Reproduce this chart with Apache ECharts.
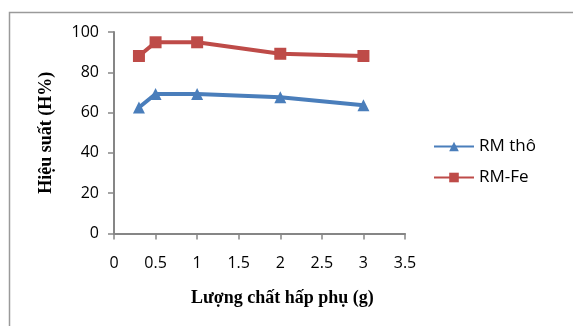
<!DOCTYPE html>
<html><head><meta charset="utf-8">
<script src="https://cdn.jsdelivr.net/npm/echarts@6/dist/echarts.min.js"></script>
<style>html,body{margin:0;padding:0;background:#fff}#c{width:573px;height:326px}</style>
</head><body><div id="c"></div>
<script>
const xValues = [0.3, 0.5, 1, 2, 3];
const rmTho = [62.5, 69.2, 69.2, 67.6, 63.7];
const rmFe = [88.1, 94.9, 94.9, 89.2, 88.1];
const seriesNames = ['RM thô', 'RM-Fe'];
const xTicks = [0, 0.5, 1, 1.5, 2, 2.5, 3, 3.5];
const yTicks = [0, 20, 40, 60, 80, 100];

const chart = echarts.init(document.getElementById('c'), null, {renderer: 'canvas'});
const axisCol = '#868686';
const labelFont = {color: '#000', fontFamily: 'Open Sans', fontSize: 16};
chart.setOption({
  animation: false,
  backgroundColor: '#fff',
  graphic: [
    {type: 'rect', shape: {x: 9.5, y: 12.5, width: 700, height: 500}, style: {fill: 'none', stroke: '#9a9a9a', lineWidth: 1.5}, z: -1},
    {type: 'text', left: 191, top: 289, style: {text: 'Lượng chất hấp phụ (g)', fill: '#000', font: 'bold 18px "Liberation Serif"'}}
  ],
  grid: {left: 114, right: 168, top: 32, bottom: 92.5},
  legend: {
    orient: 'vertical', left: 428, top: 133, itemWidth: 40, itemHeight: 12, itemGap: 14,
    textStyle: {fontFamily: 'Open Sans', fontSize: 17, color: '#000'},
    data: seriesNames
  },
  xAxis: {
    type: 'value', min: xTicks[0], max: xTicks[xTicks.length - 1], interval: 0.5,
    axisLine: {lineStyle: {color: axisCol, width: 2}},
    axisTick: {show: true, length: 6, lineStyle: {color: axisCol, width: 1.5}},
    axisLabel: Object.assign({margin: 22, formatter: v => String(v)}, labelFont),
    splitLine: {show: false}
  },
  yAxis: {
    type: 'value', min: yTicks[0], max: yTicks[yTicks.length - 1], interval: 20,
    name: 'Hiệu suất (H%)', nameLocation: 'middle', nameGap: 59,
    nameTextStyle: {fontFamily: 'Liberation Serif', fontWeight: 'bold', fontSize: 18, color: '#000'},
    axisLine: {show: true, lineStyle: {color: axisCol, width: 2}},
    axisTick: {show: true, length: 6, lineStyle: {color: axisCol, width: 1.5}},
    axisLabel: Object.assign({margin: 15}, labelFont),
    splitLine: {show: false}
  },
  series: [
    {
      name: seriesNames[0], type: 'line', data: xValues.map((x, i) => [x, rmTho[i]]),
      symbol: 'triangle', symbolSize: 12,
      lineStyle: {color: '#4A7EBB', width: 4}, itemStyle: {color: '#4A7EBB'}
    },
    {
      name: seriesNames[1], type: 'line', data: xValues.map((x, i) => [x, rmFe[i]]),
      symbol: 'rect', symbolSize: 12,
      lineStyle: {color: '#BE4B48', width: 4}, itemStyle: {color: '#BE4B48'}
    }
  ]
});
</script></body></html>
